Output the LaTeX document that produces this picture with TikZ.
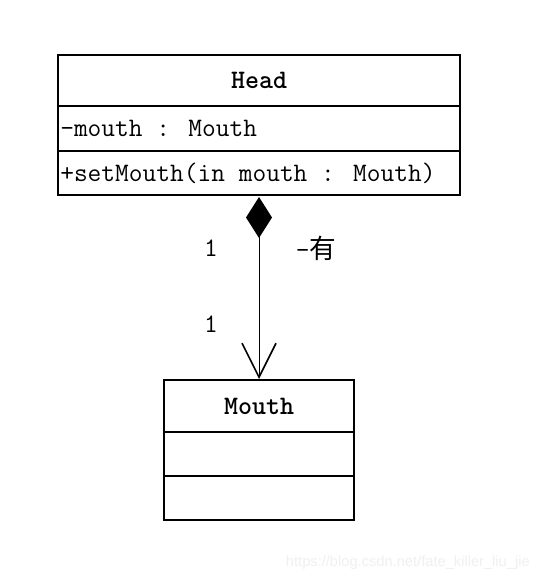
\documentclass[tikz,border=0pt]{standalone}
\usepackage{fontspec}
\newfontfamily\cjkfont{Noto Sans CJK SC}
\newfontfamily\wmfont{Liberation Sans}
\usetikzlibrary{arrows.meta}
\begin{document}
\begin{tikzpicture}[x=0.75pt,y=-0.75pt,
  comp/.style={draw,line width=1.5pt,rectangle,inner sep=0pt,anchor=north west},
  txt/.style={font=\ttfamily\fontsize{20}{22}\selectfont},
  bold/.style={font=\ttfamily\bfseries\fontsize{20}{22}\selectfont},
  lbl/.style={font=\ttfamily\fontsize{20}{22}\selectfont,inner sep=0pt},
  conn/.style={line width=0.75pt}
]
\useasboundingbox (0,0) rectangle (540,581);
\fill[white] (0,0) rectangle (540,581);
% Head class
\node[comp,minimum width=402*0.75pt,minimum height=51*0.75pt] (hname) at (57,54) {};
\node[comp,minimum width=402*0.75pt,minimum height=45*0.75pt] (hattr) at (57,105) {};
\node[comp,minimum width=402*0.75pt,minimum height=44*0.75pt] (hops) at (57,150) {};
\node[bold] (htitle) at (hname.center) {Head};
\node[txt,anchor=west,inner sep=0pt] (hattrtxt) at ([xshift=3*0.75pt]hattr.west) {-mouth : Mouth};
\node[txt,anchor=west,inner sep=0pt] (hopstxt) at ([xshift=3*0.75pt]hops.west) {+setMouth(in mouth : Mouth)};
% Mouth class
\node[comp,minimum width=190*0.75pt,minimum height=52*0.75pt] (mname) at (163,379) {};
\node[comp,minimum width=190*0.75pt,minimum height=44*0.75pt] (mattr) at (163,431) {};
\node[comp,minimum width=190*0.75pt,minimum height=44*0.75pt] (mops) at (163,475) {};
\node[bold] (mtitle) at (mname.center) {Mouth};
% Composition connector
\draw[conn,{Diamond[length=41*0.75pt,width=26*0.75pt,line width=0pt]}-{Straight Barb[length=34*0.75pt,width=34*0.75pt,line width=1.2pt]}]
  ([yshift=-0.75pt]hops.south) -- (mname.north);
% labels
\node[lbl] (m1) at (211,248) {1};
\node[lbl] (m2) at (211,324) {1};
\node[lbl] (role) at (316,248) {-{\cjkfont 有}};
% watermark
\node[font=\wmfont\fontsize{11}{13}\selectfont,text=black!6,anchor=east,inner sep=0pt] (wm) at (530,563) {https://blog.csdn.net/fate\_killer\_liu\_jie};
\end{tikzpicture}
\end{document}
